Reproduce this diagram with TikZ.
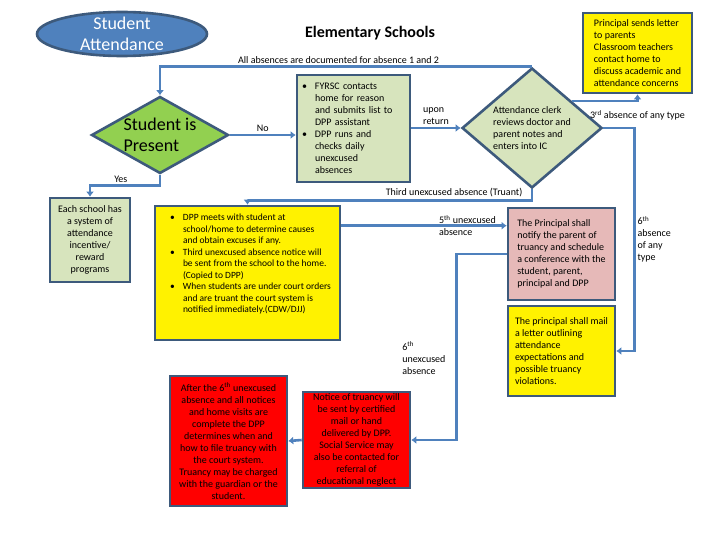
\documentclass[tikz,border=0pt]{standalone}
\usepackage{fontspec}
\setmainfont{Carlito}
\usetikzlibrary{shapes.geometric,arrows.meta,calc}

\definecolor{edge}{HTML}{3D5A7C}
\definecolor{link}{HTML}{4F81BD}
\definecolor{sky}{HTML}{4F81BD}
\definecolor{leaf}{HTML}{92D050}
\definecolor{sage}{HTML}{D7E4BD}
\definecolor{rose}{HTML}{E6B9B8}

\newcommand{\bulitem}{\makebox[13pt][l]{\textbullet}}
\newcommand{\bulind}{\hspace*{13pt}}

\begin{document}
\begin{tikzpicture}[x=1pt, y=-1pt,
  box/.style={draw=edge, line width=2.6pt, align=center, font=\fontsize{10}{12}\selectfont},
  tag/.style={font=\fontsize{10}{12}\selectfont, align=left, inner sep=2pt},
  arrow/.style={-{Latex[length=5pt,width=8pt]}, draw=link, line width=2.6pt}
]
\useasboundingbox (0,0) rectangle (720,540);

% top row
\node (attend) [box, ellipse, fill=sky, text=white, minimum width=170pt, minimum height=44pt, inner xsep=0pt, inner ysep=-12pt, font=\fontsize{18}{21}\selectfont] at (122,34) {Student\\Attendance};
\node (title) [font=\fontsize{16}{19}\selectfont\bfseries] at (370,33) {Elementary Schools};
\node (letter) [box, fill=yellow, minimum width=109pt, minimum height=80pt, align=left] at (637.5,53) {Principal sends letter\\to parents\\Classroom teachers\\contact home to\\discuss academic and\\attendance concerns};

% first absences
\node (present) [box, diamond, aspect=1.78, fill=leaf, minimum width=137pt, minimum height=77pt, inner sep=-3pt, align=left, font=\fontsize{18}{21}\selectfont] at (160,135) {Student is\\Present};
\node (fyrsc) [box, fill=sage, minimum width=113pt, minimum height=107pt, inner xsep=5pt, text width=103pt, align=left] at (353.5,128.5) {\bulitem FYRSC contacts\\\bulind home for reason\\\bulind and submits list to\\\bulind DPP assistant\\\bulitem DPP runs and\\\bulind checks daily\\\bulind unexcused\\\bulind absences};
\node (clerk) [box, diamond, aspect=1.17, fill=sage, minimum width=140pt, minimum height=120pt, inner sep=0pt, align=left] at (532,128) {Attendance clerk\\reviews doctor and\\parent notes and\\enters into IC};
\node (incentive) [box, fill=sage, minimum width=80pt, minimum height=84pt] at (90,240) {Each school has\\a system of\\attendance\\incentive/\\reward\\programs};

% truancy steps
\node (dpp) [box, fill=yellow, inner sep=8pt, font=\fontsize{9.5}{11.5}\selectfont] at (247.5,273) {\parbox[t][118pt][t]{169pt}{\raggedright
  \hspace*{7pt}\bulitem DPP meets with student at\\
  \hspace*{20pt}school/home to determine causes\\
  \hspace*{20pt}and obtain excuses if any.\\
  \hspace*{7pt}\bulitem Third unexcused absence notice will\\
  \hspace*{20pt}be sent from the school to the home.\\
  \hspace*{20pt}(Copied to DPP)\\
  \hspace*{7pt}\bulitem When students are under court orders\\
  \hspace*{20pt}and are truant the court system is\\
  \hspace*{20pt}notified immediately.(CDW/DJJ)}};
\node (conference) [box, fill=rose, minimum width=107pt, minimum height=92pt, align=left] at (561.5,254) {The Principal shall\\notify the parent of\\truancy and schedule\\a conference with the\\student, parent,\\principal and DPP};
\node (mail) [box, fill=yellow, minimum width=107pt, minimum height=90pt, align=left] at (561.5,351) {The principal shall mail\\a letter outlining\\attendance\\expectations and\\possible truancy\\violations.};
\node (notice) [box, fill=red, text=black, minimum width=107pt, minimum height=96pt, inner sep=1pt] at (356.5,440) {Notice of truancy will\\be sent by certified\\mail or hand\\delivered by DPP.\\Social Service may\\also be contacted for\\referral of\\educational neglect};
\node (court) [box, fill=red, text=black, minimum width=117pt, minimum height=130pt, inner sep=1pt] at (228.5,441) {After the 6\textsuperscript{th} unexcused\\absence and all notices\\and home visits are\\complete the DPP\\determines when and\\how to file truancy with\\the court system.\\Truancy may be charged\\with the guardian or the\\student.};

% connectors
\draw[arrow] (clerk.north) -| node[tag, above, pos=0.26] {All absences are documented for absence 1 and 2} (present.north);
\draw[arrow] (present.east) -- node[tag, above] {No} (present.east -| fyrsc.west);
\draw[arrow] (fyrsc.east |- clerk.west) -- node[tag, above] {upon\\return} (clerk.west);
\draw[arrow] ($(clerk.north)!0.56!(clerk.east)$) -| node[tag, below=6pt, pos=0.5] {3\textsuperscript{rd} absence of any type} (letter.south);
\draw[arrow] (clerk.east) -- ++(31,0) |- node[tag, right, pos=0.25] {6\textsuperscript{th}\\absence\\of any\\type} (mail.east);
\draw[arrow] (clerk.south) -- ++(0,11) -| node[tag, above, pos=0.137] {Third unexcused absence (Truant)} (dpp.north);
\draw[arrow] (present.south) -- ++(0,11) -| node[tag, above, pos=0.28] {Yes} (incentive.north);
\draw[arrow] ([yshift=-21pt]dpp.north east) -- node[tag, pos=0.763] {5\textsuperscript{th} unexcused\\absence} ([yshift=-19pt]conference.north west);
\draw[arrow] (conference.west) -- ++(-50,0) |- node[tag, left=8pt, pos=0.28] {6\textsuperscript{th}\\unexcused\\absence} (notice.east);
\draw[arrow] (notice.west) -- (court.east);
\end{tikzpicture}
\end{document}
